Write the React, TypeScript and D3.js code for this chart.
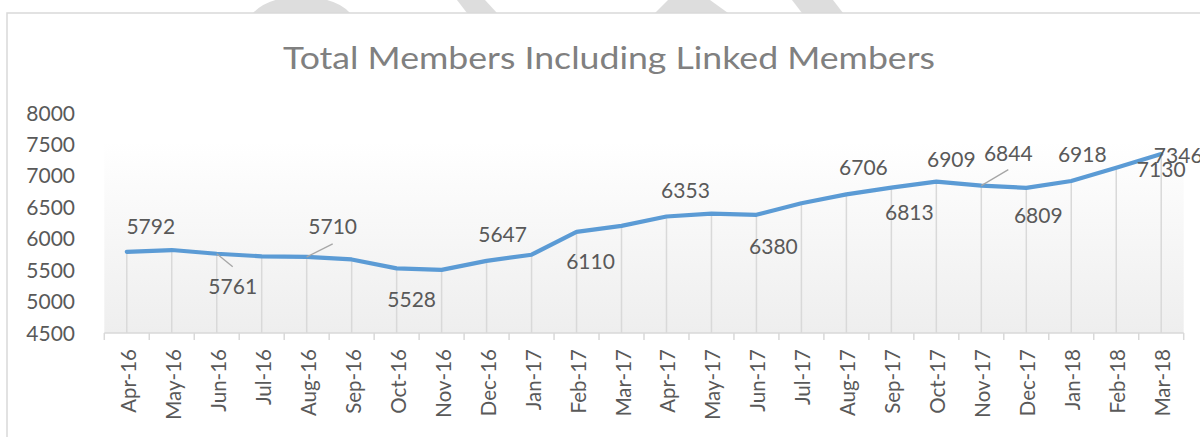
import React from "react";
import * as d3 from "d3";

const months = [
  "Apr-16", "May-16", "Jun-16", "Jul-16", "Aug-16", "Sep-16", "Oct-16", "Nov-16",
  "Dec-16", "Jan-17", "Feb-17", "Mar-17", "Apr-17", "May-17", "Jun-17", "Jul-17",
  "Aug-17", "Sep-17", "Oct-17", "Nov-17", "Dec-17", "Jan-18", "Feb-18", "Mar-18",
];
const members = [
  5792, 5820, 5761, 5720, 5710, 5670, 5528, 5505,
  5647, 5745, 6110, 6205, 6353, 6400, 6380, 6565,
  6706, 6813, 6909, 6844, 6809, 6918, 7130, 7346,
];
const yTicks = [4500, 5000, 5500, 6000, 6500, 7000, 7500, 8000];
const title = "Total Members Including Linked Members";

// months whose value is labelled in the chart
const labelledMonths = [
  "Apr-16", "Jun-16", "Aug-16", "Oct-16", "Dec-16", "Feb-17", "Apr-17", "Jun-17",
  "Aug-17", "Sep-17", "Oct-17", "Nov-17", "Dec-17", "Jan-18", "Feb-18", "Mar-18",
];

// label placement (offsets from the point, in px) — styling, not data
const labelPlacement: Record<string, { dx: number; dy: number; leader?: [number, number] }> = {
  "Apr-16": { dx: 24, dy: -18 },
  "Jun-16": { dx: 16, dy: 40, leader: [16, 13] },
  "Aug-16": { dx: 26, dy: -23, leader: [26, -13] },
  "Oct-16": { dx: 15, dy: 39 },
  "Dec-16": { dx: 16, dy: -19 },
  "Feb-17": { dx: 14, dy: 37 },
  "Apr-17": { dx: 19, dy: -19 },
  "Jun-17": { dx: 17, dy: 39 },
  "Aug-17": { dx: 17, dy: -19 },
  "Sep-17": { dx: 18, dy: 32 },
  "Oct-17": { dx: 15, dy: -15 },
  "Nov-17": { dx: 27, dy: -25, leader: [27, -16] },
  "Dec-17": { dx: 12, dy: 35 },
  "Jan-18": { dx: 11, dy: -19 },
  "Feb-18": { dx: 45, dy: 9 },
  "Mar-18": { dx: 17, dy: 9 },
};

const W = 1200;
const H = 437;
const FONT = "Lato, 'Open Sans', sans-serif";

export default function App() {
  const x = d3.scaleBand<string>().domain(months).range([104.3, 1183.7]).padding(0);
  const y = d3.scaleLinear().domain([4500, 8000]).range([333, 113]);
  const cx = (m: string) => (x(m) as number) + x.bandwidth() / 2;

  const data = months.map((m, i) => ({ m, v: members[i] }));
  const line = d3
    .line<{ m: string; v: number }>()
    .x((d) => cx(d.m))
    .y((d) => y(d.v));

  const baseY = y(4500);
  const [x0, x1] = x.range();
  const boundaries = months.map((m) => x(m) as number).concat([x1]);

  return (
    <svg
      width={W}
      height={H}
      viewBox={`0 0 ${W} ${H}`}
      style={{ position: "absolute", left: 0, top: 0, background: "#ffffff" }}
    >
      <defs>
        <linearGradient id="plotGrad" x1="0" y1="0" x2="0" y2="1">
          <stop offset="0%" stopColor="#ffffff" />
          <stop offset="100%" stopColor="#eeeeee" />
        </linearGradient>
      </defs>

      {/* decorative watermark fragments above the chart frame */}
      <g fill="#dddddd">
        <path d="M253,13 Q268,-3 300,-3 Q336,-3 350,13 Z" />
        <path d="M457,0 L485,0 L497,13 L467,13 Z" />
        <path d="M655,13 L668,0 L710,0 L728,13 Z" />
        <path d="M792,0 L833,0 L843,13 L802,13 Z" />
      </g>

      {/* chart frame */}
      <rect x={7} y={13} width={1210} height={440} fill="#ffffff" stroke="#d9d9d9" strokeWidth={1.5} />

      {/* title */}
      <text
        x={609}
        y={68.5}
        textAnchor="middle"
        fontFamily={FONT}
        fontSize={31}
        fill="#808080"
        textLength={652}
        lengthAdjust="spacingAndGlyphs"
      >
        {title}
      </text>

      {/* plot area gradient */}
      <rect x={x0} y={142} width={x1 - x0} height={baseY - 142} fill="url(#plotGrad)" />

      {/* y tick labels */}
      {yTicks.map((t) => (
        <text
          key={t}
          x={75}
          y={y(t)}
          dy="0.36em"
          textAnchor="end"
          fontFamily={FONT}
          fontSize={21}
          fill="#595959"
        >
          {t}
        </text>
      ))}

      {/* drop lines */}
      {data.map((d) => (
        <line
          key={"drop" + d.m}
          x1={cx(d.m)}
          x2={cx(d.m)}
          y1={y(d.v)}
          y2={baseY}
          stroke="#d9d9d9"
          strokeWidth={1.5}
        />
      ))}

      {/* x axis */}
      <line x1={x0} x2={x1} y1={baseY} y2={baseY} stroke="#d9d9d9" strokeWidth={1.5} />
      {boundaries.map((bx, i) => (
        <line key={"tk" + i} x1={bx} x2={bx} y1={baseY} y2={baseY + 7} stroke="#d9d9d9" strokeWidth={1.5} />
      ))}
      {months.map((m) => (
        <text
          key={"xl" + m}
          transform={`translate(${cx(m) + 9},349) rotate(-90)`}
          textAnchor="end"
          fontFamily={FONT}
          fontSize={20.5}
          fill="#595959"
        >
          {m}
        </text>
      ))}

      {/* series line */}
      <path
        d={line(data) || ""}
        fill="none"
        stroke="#5b9bd5"
        strokeWidth={4.2}
        strokeLinejoin="round"
        strokeLinecap="round"
      />

      {/* leader lines */}
      {data
        .filter((d) => labelledMonths.includes(d.m) && labelPlacement[d.m]?.leader)
        .map((d) => {
          const p = labelPlacement[d.m];
          const [lx, ly] = p.leader as [number, number];
          return (
            <line
              key={"ld" + d.m}
              x1={cx(d.m)}
              y1={y(d.v)}
              x2={cx(d.m) + lx}
              y2={y(d.v) + ly}
              stroke="#a6a6a6"
              strokeWidth={1.3}
            />
          );
        })}

      {/* data labels */}
      {data
        .filter((d) => labelledMonths.includes(d.m))
        .map((d) => {
          const p = labelPlacement[d.m];
          return (
            <text
              key={"lb" + d.m}
              x={cx(d.m) + p.dx}
              y={y(d.v) + p.dy}
              textAnchor="middle"
              fontFamily={FONT}
              fontSize={21}
              fill="#595959"
            >
              {d.v}
            </text>
          );
        })}
    </svg>
  );
}
